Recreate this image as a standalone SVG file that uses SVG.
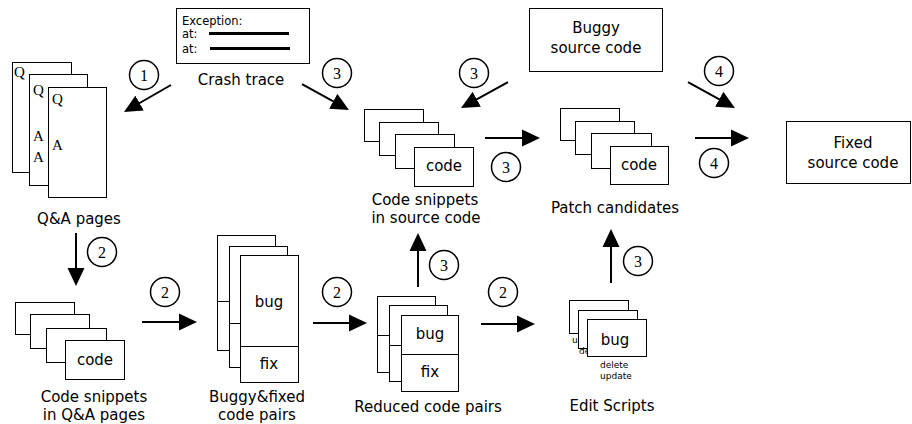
<svg xmlns="http://www.w3.org/2000/svg" width="912" height="424" viewBox="0 0 912 424">
<defs>
<marker id="ah" markerUnits="userSpaceOnUse" markerWidth="18" markerHeight="18" viewBox="0 0 18 18" refX="12" refY="9" orient="auto">
<path d="M0,0.5 L18,9 L0,17.5 z" fill="#000"/>
</marker>
</defs>
<style>
.box{fill:#fff;stroke:#000;stroke-width:1}
.div{stroke:#000;stroke-width:1;fill:none}
.lbl{font-family:"DejaVu Sans",Verdana,sans-serif;font-size:15px;fill:#000;text-anchor:middle}
.sm{font-family:"DejaVu Sans",Verdana,sans-serif;font-size:11.5px;fill:#000}
.tiny{font-family:"DejaVu Sans",Verdana,sans-serif;font-size:9px;fill:#000}
.qa{font-family:"Liberation Serif","Times New Roman",serif;font-size:15px;fill:#000}
.arr{stroke:#000;stroke-width:2;fill:none;marker-end:url(#ah)}
.cir{fill:#fff;stroke:#000;stroke-width:1.5}
.num{font-family:"Liberation Serif","Times New Roman",serif;font-size:16px;fill:#000;text-anchor:middle}
.tl{stroke:#000;stroke-width:3}
</style>

<g id="qa-pages">
<rect class="box" x="12.5" y="62.5" width="59" height="110"/>
<text class="qa" x="14" y="77">Q</text>
<rect class="box" x="29.5" y="74.5" width="58" height="111"/>
<text class="qa" x="33" y="95">Q</text>
<text class="qa" x="33" y="141">A</text>
<text class="qa" x="33" y="162">A</text>
<rect class="box" x="48.5" y="87.5" width="58" height="110"/>
<text class="qa" x="52" y="104">Q</text>
<text class="qa" x="52" y="150">A</text>
<text class="lbl" x="79" y="224">Q&amp;A pages</text>
</g>

<g id="crash-trace">
<rect class="box" x="176.5" y="8.5" width="133" height="55"/>
<text class="sm" x="182" y="25">Exception:</text>
<text class="sm" x="182" y="38">at:</text>
<text class="sm" x="182" y="53">at:</text>
<line class="tl" x1="209" y1="33.5" x2="289" y2="33.5"/>
<line class="tl" x1="210" y1="48.5" x2="290" y2="48.5"/>
<text class="lbl" x="241" y="85">Crash trace</text>
</g>

<g id="code-snippets-source">
<rect class="box" x="364.5" y="109.5" width="59" height="32"/>
<rect class="box" x="379.5" y="122.5" width="59" height="33"/>
<rect class="box" x="395.5" y="134.5" width="59" height="34"/>
<rect class="box" x="414.5" y="147.5" width="59" height="39"/>
<text class="lbl" x="444" y="171">code</text>
<text class="lbl" x="425" y="205">Code snippets</text>
<text class="lbl" x="426" y="223">in source code</text>
</g>

<g id="buggy-source">
<rect class="box" x="529.5" y="8.5" width="133" height="63"/>
<text class="lbl" x="596" y="33">Buggy</text>
<text class="lbl" x="596" y="53">source code</text>
</g>

<g id="patch-candidates">
<rect class="box" x="560.5" y="108.5" width="59" height="32"/>
<rect class="box" x="575.5" y="121.5" width="59" height="33"/>
<rect class="box" x="591.5" y="133.5" width="60" height="35"/>
<rect class="box" x="610.5" y="146.5" width="58" height="38"/>
<text class="lbl" x="639" y="170">code</text>
<text class="lbl" x="615" y="213">Patch candidates</text>
</g>

<g id="fixed-source">
<rect class="box" x="786.5" y="121.5" width="124" height="62"/>
<text class="lbl" x="853" y="148">Fixed</text>
<text class="lbl" x="853" y="168">source code</text>
</g>

<g id="code-snippets-qa">
<rect class="box" x="15.5" y="302.5" width="59" height="32"/>
<rect class="box" x="30.5" y="314.5" width="59" height="34"/>
<rect class="box" x="46.5" y="328.5" width="60" height="34"/>
<rect class="box" x="65.5" y="340.5" width="59" height="39"/>
<text class="lbl" x="95" y="365">code</text>
<text class="lbl" x="94" y="402">Code snippets</text>
<text class="lbl" x="94" y="420">in Q&amp;A pages</text>
</g>

<g id="buggy-fixed-pairs">
<rect class="box" x="217.5" y="235.5" width="58" height="115"/>
<line class="div" x1="217.5" y1="301.5" x2="275.5" y2="301.5"/>
<rect class="box" x="229.5" y="246.5" width="58" height="121"/>
<line class="div" x1="229.5" y1="323.5" x2="287.5" y2="323.5"/>
<rect class="box" x="240.5" y="255.5" width="58" height="127"/>
<line class="div" x1="240.5" y1="346.5" x2="298.5" y2="346.5"/>
<text class="lbl" x="269" y="307">bug</text>
<text class="lbl" x="269" y="369">fix</text>
<text class="lbl" x="257" y="402">Buggy&amp;fixed</text>
<text class="lbl" x="257" y="420">code pairs</text>
</g>

<g id="reduced-pairs">
<rect class="box" x="377.5" y="296.5" width="58" height="76"/>
<line class="div" x1="377.5" y1="335.5" x2="435.5" y2="335.5"/>
<rect class="box" x="389.5" y="305.5" width="58" height="76"/>
<line class="div" x1="389.5" y1="345.5" x2="447.5" y2="345.5"/>
<rect class="box" x="401.5" y="315.5" width="57" height="76"/>
<line class="div" x1="401.5" y1="354.5" x2="458.5" y2="354.5"/>
<text class="lbl" x="430" y="339">bug</text>
<text class="lbl" x="430" y="377">fix</text>
<text class="lbl" x="428" y="412">Reduced code pairs</text>
</g>

<g id="edit-scripts">
<rect class="box" x="569.5" y="300.5" width="59" height="33"/>
<text class="tiny" x="572" y="343">u</text>
<rect class="box" x="578.5" y="310.5" width="59" height="38"/>
<text class="tiny" x="579" y="354">de</text>
<rect class="box" x="587.5" y="319.5" width="59" height="37"/>
<text class="lbl" x="615" y="345">bug</text>
<text class="tiny" x="600" y="368">delete</text>
<text class="tiny" x="600" y="379">update</text>
<text class="lbl" x="612" y="411">Edit Scripts</text>
</g>

<g id="connectors">
<line class="arr" x1="171" y1="85" x2="129.2" y2="109"/>
<line class="arr" x1="302" y1="84" x2="343.75" y2="107.1"/>
<line class="arr" x1="508" y1="82" x2="466.25" y2="105.1"/>
<line class="arr" x1="485" y1="138" x2="534" y2="138"/>
<line class="arr" x1="688" y1="82" x2="729.75" y2="105.1"/>
<line class="arr" x1="695" y1="138" x2="743" y2="138"/>
<line class="arr" x1="76" y1="233" x2="76" y2="280"/>
<line class="arr" x1="142" y1="322" x2="191" y2="322"/>
<line class="arr" x1="313" y1="323" x2="361" y2="323"/>
<line class="arr" x1="418" y1="287" x2="418" y2="239"/>
<line class="arr" x1="481" y1="324" x2="529" y2="324"/>
<line class="arr" x1="611" y1="283" x2="611" y2="235"/>

<circle class="cir" cx="144" cy="75" r="14.5"/><text class="num" x="144" y="80.5">1</text>
<circle class="cir" cx="337" cy="73" r="14.5"/><text class="num" x="337" y="78.5">3</text>
<circle class="cir" cx="474" cy="73" r="14.5"/><text class="num" x="474" y="78.5">3</text>
<circle class="cir" cx="506" cy="167" r="14.5"/><text class="num" x="506" y="172.5">3</text>
<circle class="cir" cx="719" cy="71" r="14.5"/><text class="num" x="719" y="76.5">4</text>
<circle class="cir" cx="714" cy="163" r="14.5"/><text class="num" x="714" y="168.5">4</text>
<circle class="cir" cx="102" cy="252" r="14.5"/><text class="num" x="102" y="257.5">2</text>
<circle class="cir" cx="165" cy="292" r="14.5"/><text class="num" x="165" y="297.5">2</text>
<circle class="cir" cx="337" cy="292" r="14.5"/><text class="num" x="337" y="297.5">2</text>
<circle class="cir" cx="444" cy="265" r="14.5"/><text class="num" x="444" y="270.5">3</text>
<circle class="cir" cx="503" cy="292" r="14.5"/><text class="num" x="503" y="297.5">2</text>
<circle class="cir" cx="638" cy="261" r="14.5"/><text class="num" x="638" y="266.5">3</text>
</g>
</svg>
